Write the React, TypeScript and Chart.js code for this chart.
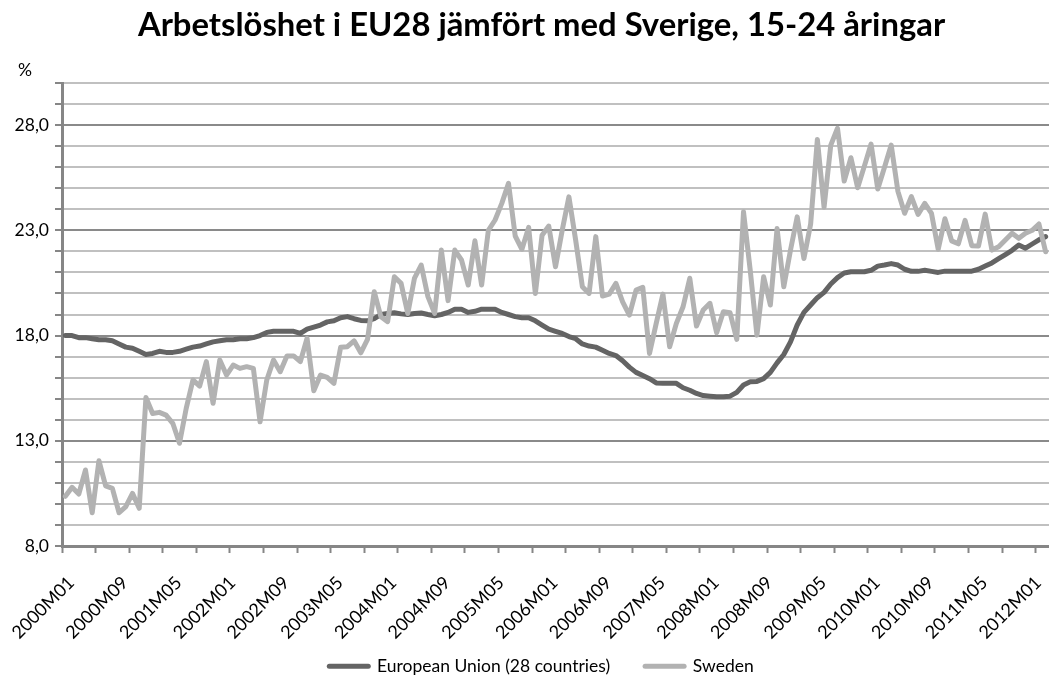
import React, { useEffect, useRef } from 'react';
import { Chart, registerables } from 'chart.js';

Chart.register(...registerables);

const titleText = 'Arbetslöshet i EU28 jämfört med Sverige, 15-24 åringar';
const seriesNames = ['European Union (28 countries)', 'Sweden'];

const startYear = 2000;
const monthCount = 147; // 2000M01 .. 2012M03
const categories: string[] = Array.from({ length: monthCount }, (_, i) =>
  `${startYear + Math.floor(i / 12)}M${String((i % 12) + 1).padStart(2, '0')}`
);

const euValues: number[] = [
  18.0, 18.0, 17.9, 17.9, 17.85, 17.8, 17.8, 17.75, 17.6, 17.45,
  17.4, 17.25, 17.1, 17.15, 17.25, 17.2, 17.2, 17.25, 17.35, 17.45,
  17.5, 17.6, 17.7, 17.75, 17.8, 17.8, 17.85, 17.85, 17.9, 18.0,
  18.15, 18.2, 18.2, 18.2, 18.2, 18.1, 18.3, 18.4, 18.5, 18.65,
  18.7, 18.85, 18.9, 18.8, 18.72, 18.7, 18.8, 19.0, 19.05, 19.08,
  19.03, 19.0, 19.05, 19.07, 19.0, 18.94, 19.0, 19.1, 19.25, 19.25,
  19.1, 19.15, 19.25, 19.25, 19.25, 19.1, 19.0, 18.9, 18.85, 18.85,
  18.7, 18.5, 18.3, 18.2, 18.1, 17.95, 17.85, 17.6, 17.5, 17.45,
  17.3, 17.15, 17.05, 16.8, 16.5, 16.25, 16.1, 15.95, 15.75, 15.73,
  15.73, 15.73, 15.52, 15.4, 15.25, 15.15, 15.12, 15.09, 15.09, 15.12,
  15.3, 15.65, 15.8, 15.82, 15.95, 16.25, 16.7, 17.1, 17.7, 18.5,
  19.1, 19.45, 19.8, 20.05, 20.45, 20.75, 20.97, 21.03, 21.03, 21.03,
  21.1, 21.3, 21.35, 21.42, 21.35, 21.15, 21.05, 21.05, 21.1, 21.05,
  21.0, 21.06, 21.06, 21.06, 21.06, 21.06, 21.15, 21.3, 21.45, 21.65,
  21.85, 22.05, 22.3, 22.15, 22.35, 22.55, 22.7,
];

const swedenValues: number[] = [
  10.36, 10.79, 10.47, 11.61, 9.58, 12.05, 10.86, 10.74, 9.58, 9.87,
  10.5, 9.79, 15.06, 14.3, 14.35, 14.22, 13.83, 12.88, 14.54, 15.89,
  15.6, 16.76, 14.78, 16.84, 16.12, 16.6, 16.44, 16.52, 16.44, 13.9,
  15.89, 16.84, 16.28, 17.03, 17.03, 16.76, 17.87, 15.38, 16.12, 16.01,
  15.73, 17.44, 17.47, 17.75, 17.18, 17.82, 20.08, 18.89, 18.66, 20.79,
  20.48, 19.05, 20.73, 21.35, 19.85, 19.05, 22.06, 19.66, 22.06, 21.59,
  20.4, 22.5, 20.4, 23.0, 23.49, 24.28, 25.23, 22.73, 22.1, 23.14,
  20.0, 22.77, 23.2, 21.27, 23.0, 24.59, 22.54, 20.32, 20.0, 22.7,
  19.88, 19.97, 20.48, 19.6, 18.97, 20.16, 20.29, 17.15, 18.58, 19.97,
  17.47, 18.58, 19.37, 20.72, 18.45, 19.21, 19.53, 18.13, 19.13, 19.08,
  17.82, 23.88, 21.11, 18.02, 20.79, 19.45, 23.09, 20.32, 22.06, 23.64,
  21.66, 23.3, 27.32, 24.1, 27.05, 27.85, 25.34, 26.45, 25.02, 26.05,
  27.1, 24.96, 26.0, 27.05, 24.85, 23.81, 24.6, 23.76, 24.28, 23.8,
  22.1, 23.55, 22.5, 22.36, 23.47, 22.27, 22.25, 23.77, 22.06, 22.22,
  22.54, 22.86, 22.62, 22.86, 23.0, 23.3, 21.98,
];

const yMin = 8;
const yMax = 30;
const yLabelValues: number[] = [8, 13, 18, 23, 28];
const unitLabel = '%';

// let tick labels extend beyond their scale box (no clipping)
const noLabelClip = (s: any) => {
  s._computeLabelArea = () => undefined;
};

export default function App() {
  const canvasRef = useRef<HTMLCanvasElement>(null);

  useEffect(() => {
    const canvas = canvasRef.current;
    if (!canvas) return;
    const FONT = 'Lato, "Open Sans", sans-serif';

    // fit title width to the reference
    const mctx = document.createElement('canvas').getContext('2d')!;
    mctx.font = `bold 100px ${FONT}`;
    const titleSize = Math.round((100 * 807) / mctx.measureText(titleText).width * 10) / 10;
    const titleLineH = titleSize * 1.2;
    const titlePadTop = 25 - titleLineH / 2;
    const titlePadBottom = 83 - titlePadTop - titleLineH;

    const legendFontSize = 17.5;
    const legendPad = 35;
    const legendH = legendFontSize + legendPad + 10;
    const xAxisH = 685 - 546 - legendH;
    const leftPad = 34;

    const unitPlugin = {
      id: 'unitLabel',
      afterDraw(chart: any) {
        const c = chart.ctx;
        c.save();
        c.font = `17.5px ${FONT}`;
        c.fillStyle = '#000';
        c.textBaseline = 'alphabetic';
        c.textAlign = 'left';
        c.fillText(unitLabel, 18, 76);
        c.restore();
      },
    };

    const chart = new Chart(canvas, {
      type: 'line',
      data: {
        labels: categories,
        datasets: [
          {
            label: seriesNames[0],
            data: euValues,
            borderColor: '#646464',
            backgroundColor: '#646464',
            borderWidth: 5,
            pointRadius: 0,
            pointHoverRadius: 0,
            tension: 0,
            borderCapStyle: 'round',
            borderJoinStyle: 'round',
            order: 1,
          },
          {
            label: seriesNames[1],
            data: swedenValues,
            borderColor: '#b2b2b2',
            backgroundColor: '#b2b2b2',
            borderWidth: 5,
            pointRadius: 0,
            pointHoverRadius: 0,
            tension: 0,
            borderCapStyle: 'round',
            borderJoinStyle: 'round',
            order: 0,
          },
        ],
      },
      options: {
        responsive: false,
        animation: false,
        events: [],
        layout: { padding: { left: leftPad, right: 0, top: 0, bottom: 0 } },
        plugins: {
          title: {
            display: true,
            text: titleText,
            color: '#000',
            font: { family: FONT, size: titleSize, weight: 'bold', lineHeight: 1.2 },
            padding: { top: titlePadTop, bottom: titlePadBottom },
          },
          legend: {
            position: 'bottom',
            labels: {
              usePointStyle: true,
              pointStyle: 'line',
              pointStyleWidth: 39,
              color: '#000',
              padding: legendPad,
              font: { family: FONT, size: legendFontSize },
              sort: (a: any, b: any) => a.datasetIndex - b.datasetIndex,
              generateLabels: (ch: any) =>
                (Chart.defaults.plugins.legend.labels.generateLabels as any)(ch).map((l: any) => ({
                  ...l,
                  lineCap: 'round',
                })),
            },
          },
          tooltip: { enabled: false },
        },
        scales: {
          x: {
            type: 'category',
            offset: true,
            grid: {
              offset: true,
              drawOnChartArea: false,
              drawTicks: true,
              tickLength: 7,
              tickWidth: 2,
              tickColor: (ctx: any) => (ctx.index % 5 === 0 ? '#868686' : 'rgba(0,0,0,0)'),
            },
            border: { color: '#868686', width: 3 },
            ticks: {
              autoSkip: false,
              maxRotation: 45,
              minRotation: 45,
              padding: 19,
              labelOffset: 6,
              color: '#000',
              font: { family: FONT, size: 18 },
              callback: (_v: any, i: number) => (i % 8 === 0 ? categories[i] : ''),
            },
            afterFit: (s: any) => {
              s.height = xAxisH;
              s.paddingLeft = 0;
              s.paddingRight = 0;
            },
            afterUpdate: noLabelClip,
          },
          y: {
            min: yMin,
            max: yMax,
            grid: {
              color: (ctx: any) =>
                ctx.tick && yLabelValues.includes(ctx.tick.value) ? '#8a8a8a' : '#c0c0c0',
              lineWidth: 2,
              drawTicks: true,
              tickLength: 7,
              tickColor: '#868686',
              tickWidth: 2,
            },
            border: { color: '#868686', width: 3 },
            ticks: {
              stepSize: 1,
              autoSkip: false,
              padding: 6,
              color: '#000',
              font: { family: FONT, size: 17.5 },
              callback: (v: any) =>
                yLabelValues.includes(Number(v)) ? Number(v).toFixed(1).replace('.', ',') : '',
            },
            afterFit: (s: any) => {
              s.width = 62 - leftPad;
            },
            afterUpdate: noLabelClip,
          },
        },
      } as any,
      plugins: [unitPlugin],
    });

    return () => chart.destroy();
  }, []);

  return (
    <div
      style={{
        position: 'absolute',
        left: 0,
        top: 0,
        width: 1049,
        height: 685,
        overflow: 'hidden',
        background: '#fff',
      }}
    >
      <canvas ref={canvasRef} width={1049} height={685} style={{ display: 'block' }} />
    </div>
  );
}
